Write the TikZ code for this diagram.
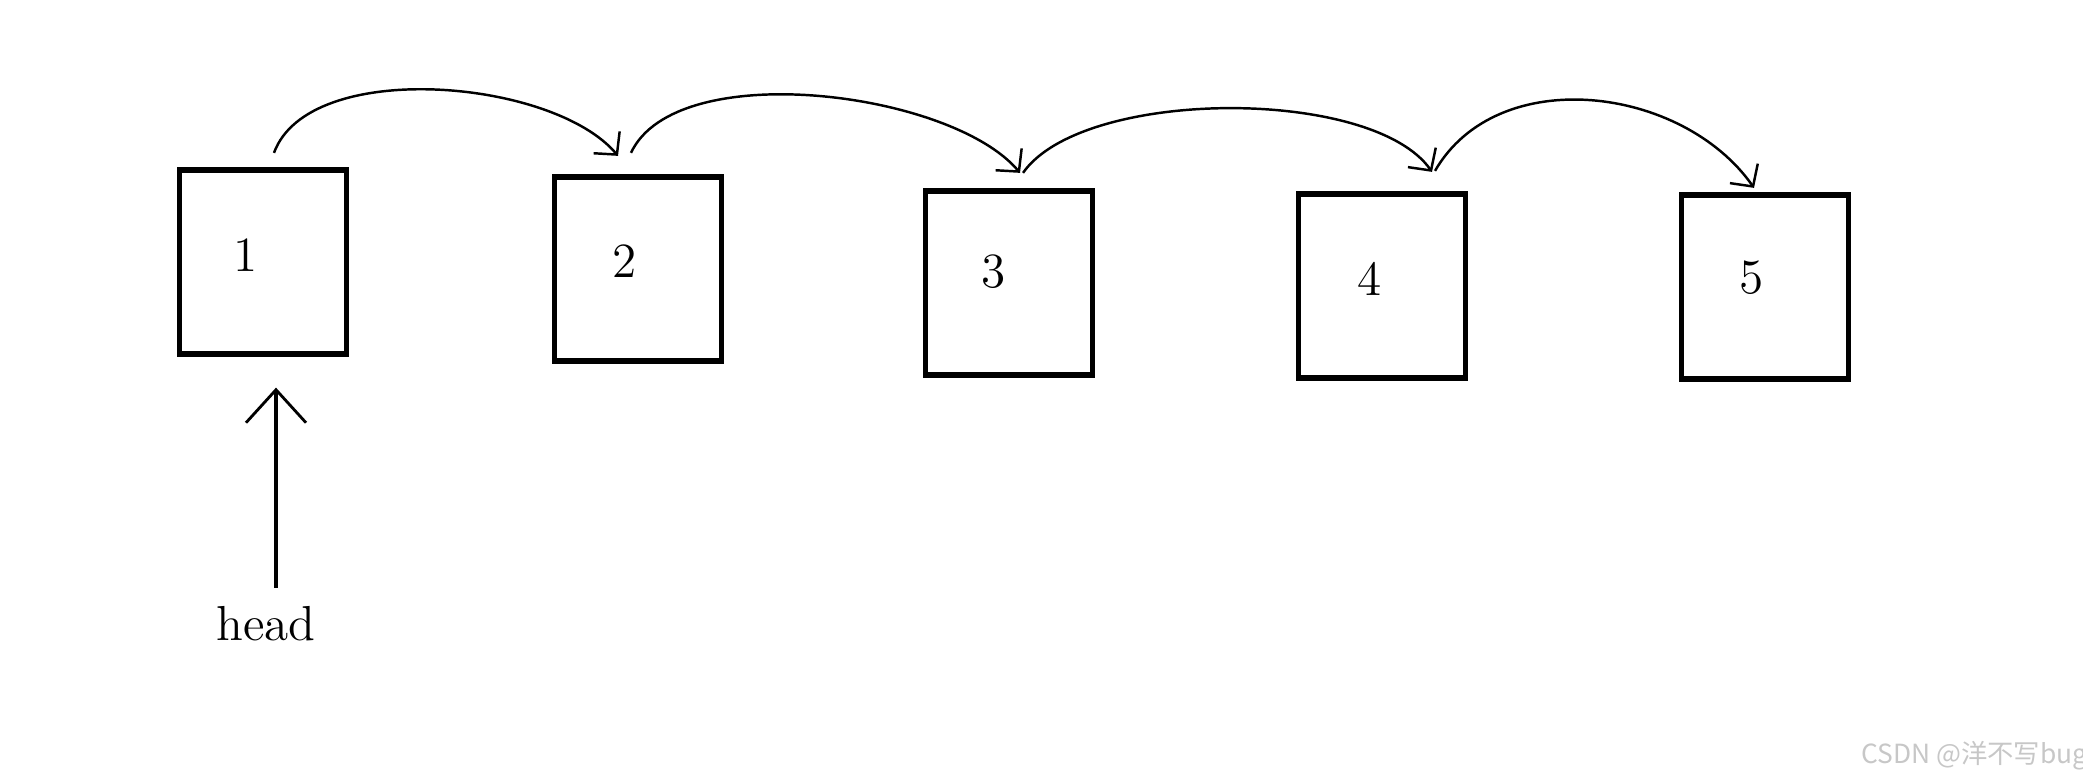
\documentclass[tikz,border=0pt]{standalone}
\usepackage{fontspec}
\newfontfamily\cjkfont{Noto Sans CJK SC}
\usetikzlibrary{arrows.meta}

\begin{document}
\begin{tikzpicture}[
  cell/.style={draw, line width=1.5pt, minimum width=1.67cm, minimum height=1.84cm, inner sep=0pt},
  num/.style={font=\fontsize{14}{16}\selectfont, inner sep=0pt},
  link/.style={line width=0.7pt, -{Straight Barb[length=1.6mm, width=3.4mm]}},
  ptr/.style={line width=1.3pt, -{Straight Barb[length=3.3mm, width=6mm, line width'=0.8pt]}}
]
  \useasboundingbox (0,0) rectangle (20.83,-7.70);
  \node[cell] (n1) at (2.63,-2.62) {};
  \node[cell] (n2) at (6.38,-2.69) {};
  \node[cell] (n3) at (10.09,-2.83) {};
  \node[cell] (n4) at (13.82,-2.86) {};
  \node[cell] (n5) at (17.65,-2.87) {};
  \node[num] (v1) at ([shift={(-0.17,0.07)}]n1.center) {1};
  \node[num] (v2) at ([shift={(-0.13,0.08)}]n2.center) {2};
  \node[num] (v3) at ([shift={(-0.15,0.11)}]n3.center) {3};
  \node[num] (v4) at ([shift={(-0.12,0.07)}]n4.center) {4};
  \node[num] (v5) at ([shift={(-0.13,0.09)}]n5.center) {5};
  \draw[link] ([shift={(0.11,0.145)}]n1.north) to[out=70, in=130, looseness=0.75] ([shift={(-0.20,0.185)}]n2.north);
  \draw[link] ([shift={(-0.07,0.215)}]n2.north) to[out=65, in=130, looseness=0.7] ([shift={(0.11,0.155)}]n3.north);
  \draw[link] ([shift={(0.14,0.155)}]n3.north) to[out=55, in=125, looseness=0.65] ([shift={(0.50,0.195)}]n4.north);
  \draw[link] ([shift={(0.53,0.205)}]n4.north) to[out=60, in=125, looseness=1] ([shift={(-0.11,0.045)}]n5.north);
  \node[num] (head) at (2.66,-6.24) {head};
  \draw[ptr] ([shift={(0.10,0.18)}]head.north) -- ([shift={(0.13,-0.31)}]n1.south);
  \node[anchor=base east, text=black!22, font=\cjkfont\fontsize{7.5}{9}\selectfont, inner sep=0pt] (wm) at (20.88,-7.63) {CSDN @洋不写bug};
\end{tikzpicture}
\end{document}
